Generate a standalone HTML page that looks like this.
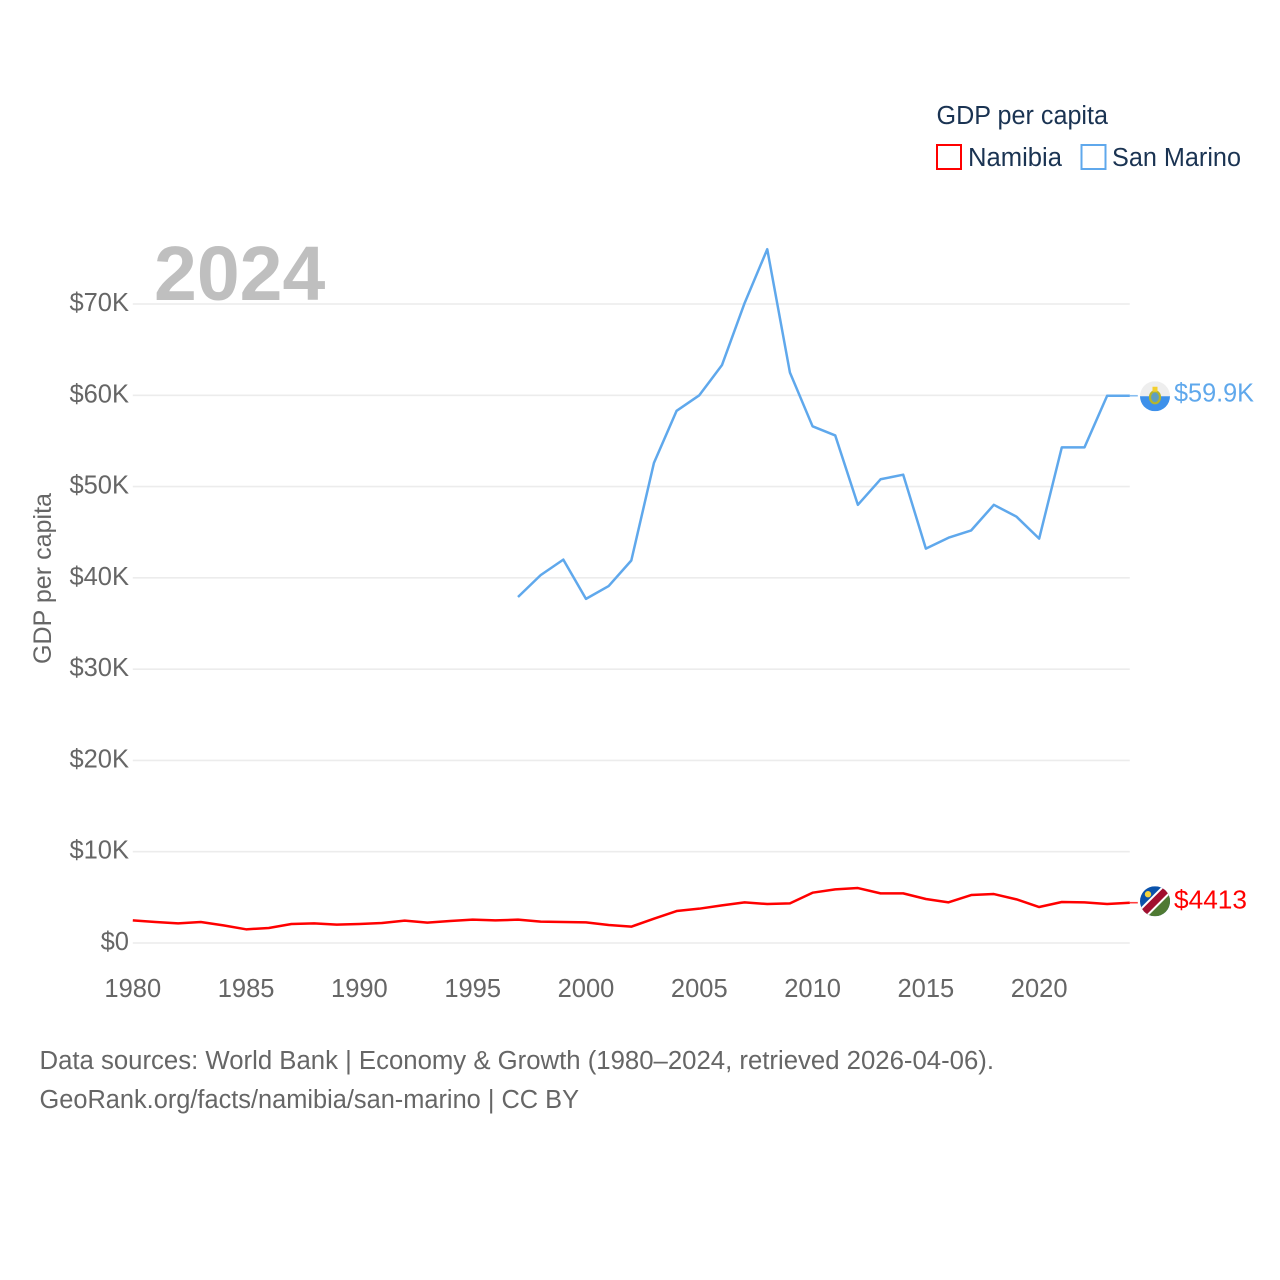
<!DOCTYPE html>
<html lang="en">
<head>
<meta charset="utf-8">
<title>GDP per capita: Namibia and San Marino</title>
<style>
html,body{margin:0;padding:0;background:#fff;}
svg{display:block;font-family:"Liberation Sans",sans-serif;}
</style>
</head>
<body>
<svg id="chart" width="1280" height="1280" viewBox="0 0 1280 1280" xmlns="http://www.w3.org/2000/svg">
  <defs>
    <clipPath id="flag-clip"><circle cx="0" cy="0" r="15"/></clipPath>
  </defs>
  <g id="grid"></g>
  <g id="y-axis"></g>
  <g id="x-axis"></g>
  <text x="154" y="300" font-size="77" font-weight="700" fill="#bfbfbf">2024</text>
  <g id="series"></g>

  <text transform="translate(51,578.5) rotate(-90)" text-anchor="middle" font-size="25" fill="#666666" textLength="171" lengthAdjust="spacingAndGlyphs">GDP per capita</text>

  <g>
    <text x="936.500" y="124" font-size="25.5" fill="#1a3352" textLength="171.500" lengthAdjust="spacingAndGlyphs">GDP per capita</text>
    <g>
      <rect x="937" y="145" width="24" height="24" fill="#fff" stroke="#ff0000" stroke-width="2"/>
      <text x="968" y="166" font-size="25.5" fill="#1a3352" textLength="94" lengthAdjust="spacingAndGlyphs">Namibia</text>
    </g>
    <g>
      <rect x="1081.500" y="145" width="24" height="24" fill="#fff" stroke="#5fa8ec" stroke-width="2"/>
      <text x="1112" y="166" font-size="25.5" fill="#1a3352" textLength="129" lengthAdjust="spacingAndGlyphs">San Marino</text>
    </g>
  </g>

  <g>
    <text x="39.500" y="1069" font-size="25.5" fill="#666666" textLength="954.500" lengthAdjust="spacingAndGlyphs">Data sources: World Bank | Economy &amp; Growth (1980–2024, retrieved 2026-04-06).</text>
    <text x="39.500" y="1108" font-size="25.5" fill="#666666" textLength="539.500" lengthAdjust="spacingAndGlyphs">GeoRank.org/facts/namibia/san-marino | CC BY</text>
  </g>
</svg>
<script>
const years = [1980,1981,1982,1983,1984,1985,1986,1987,1988,1989,1990,1991,1992,1993,1994,1995,1996,1997,1998,1999,2000,2001,2002,2003,2004,2005,2006,2007,2008,2009,2010,2011,2012,2013,2014,2015,2016,2017,2018,2019,2020,2021,2022,2023,2024];
const namibiaValues = [2482,2300,2153,2300,1935,1497,1643,2080,2153,2007,2080,2190,2445,2226,2409,2555,2482,2555,2336,2300,2263,1971,1789,2665,3504,3760,4125,4453,4270,4343,5510,5876,6022,5438,5438,4818,4453,5256,5365,4781,3942,4489,4453,4270,4413];
const sanMarinoValues = [null,null,null,null,null,null,null,null,null,null,null,null,null,null,null,null,null,37900,40300,42000,37700,39100,41900,52600,58300,60000,63300,70100,76000,62500,56600,55600,48000,50800,51300,43200,44400,45200,48000,46700,44300,54300,54300,59950,59950];
const yTickValues = [0,10000,20000,30000,40000,50000,60000,70000];
const yTickLabels = ["$0","$10K","$20K","$30K","$40K","$50K","$60K","$70K"];
const xTickValues = [1980,1985,1990,1995,2000,2005,2010,2015,2020];
const namibiaEndLabel = "$4413";
const sanMarinoEndLabel = "$59.9K";

const NS = "http://www.w3.org/2000/svg";
const xScale = function (year) { return 132.8 + (year - 1980) * (997 / 44); };
const yScale = function (value) { return 943 - value * (639 / 70000); };

function make(tag, parent, attrs) {
  const el = document.createElementNS(NS, tag);
  for (const key in attrs) { el.setAttribute(key, attrs[key]); }
  parent.appendChild(el);
  return el;
}

const grid = document.getElementById("grid");
const yAxis = document.getElementById("y-axis");
const xAxis = document.getElementById("x-axis");
const seriesGroup = document.getElementById("series");

yTickValues.forEach(function (value, i) {
  const line = make("line", grid, {x1: xScale(1980), x2: xScale(2024), y1: yScale(value), y2: yScale(value), stroke: "#ececec", "stroke-width": 1.6});
  
  
  const label = make("text", yAxis, {x: 129, y: yScale(value) + 7, "text-anchor": "end", "font-size": 25.5, fill: "#666666"});
  
  
  label.textContent = yTickLabels[i];
});

xTickValues.forEach(function (year) {
  const label = make("text", xAxis, {x: xScale(year), y: 997, "text-anchor": "middle", "font-size": 25.5, fill: "#666666"});
  
  
  label.textContent = String(year);
});

function linePath(values) {
  let d = "";
  let pen = false;
  values.forEach(function (value, i) {
    if (value === null) { pen = false; return; }
    d += (pen ? "L" : "M") + xScale(years[i]).toFixed(2) + " " + yScale(value).toFixed(2);
    pen = true;
  });
  return d;
}

function drawSeries(values, color, name) {
  const path = make("path", seriesGroup, {d: linePath(values), fill: "none", stroke: color, "stroke-width": 2.5, "stroke-linejoin": "round"});
  
  
  const lastY = yScale(values[values.length - 1]);
  const lastX = xScale(years[years.length - 1]);
  const connector = make("line", seriesGroup, {x1: lastX, x2: lastX + 8, y1: lastY, y2: lastY, stroke: color, "stroke-width": 1.6, opacity: 0.75});
  
  
  return lastY;
}

const namibiaY = drawSeries(namibiaValues, "#ff0000", "namibia");
const sanMarinoY = drawSeries(sanMarinoValues, "#5fa8ec", "san-marino");

function drawFlag(cy, name, build) {
  const g = make("g", seriesGroup, {transform: "translate(1155," + (cy - 0.5) + ")"});
  
  
  const inner = make("g", g, {"clip-path": "url(#flag-clip)"});
  build(inner);
}

drawFlag(sanMarinoY + 1, "san-marino", function (g) {
  make("rect", g, {x: -15, y: -15, width: 30, height: 15, fill: "#eeeeee"});
  make("rect", g, {x: -15, y: 0, width: 30, height: 15, fill: "#3d90ea"});
  make("ellipse", g, {cx: 0, cy: 1, rx: 5, ry: 6, fill: "#5f9ec0", stroke: "#b5b52c", "stroke-width": 2.2});
  make("rect", g, {x: -2.5, y: -9.5, width: 5, height: 5, fill: "#f3cf2e"});
});

drawFlag(namibiaY - 1, "namibia", function (g) {
  make("rect", g, {x: -15, y: -15, width: 30, height: 30, fill: "#0a52ab"});
  make("polygon", g, {points: "15,-15 15,15 -15,15", fill: "#4f7a33"});
  make("line", g, {x1: -15, y1: 15, x2: 15, y2: -15, stroke: "#ffffff", "stroke-width": 11});
  make("line", g, {x1: -15, y1: 15, x2: 15, y2: -15, stroke: "#a1102f", "stroke-width": 7});
  make("circle", g, {cx: -7, cy: -7, r: 3.2, fill: "#f5d33a"});
});

const sanMarinoLabel = make("text", seriesGroup, {x: 1174, y: sanMarinoY + 6, "font-size": 25.5, fill: "#5fa8ec", textLength: 80, lengthAdjust: "spacingAndGlyphs"});


sanMarinoLabel.textContent = sanMarinoEndLabel;

const namibiaLabel = make("text", seriesGroup, {x: 1174, y: namibiaY + 6, "font-size": 25.5, fill: "#ff0000", textLength: 73, lengthAdjust: "spacingAndGlyphs"});


namibiaLabel.textContent = namibiaEndLabel;
</script>
</body>
</html>
